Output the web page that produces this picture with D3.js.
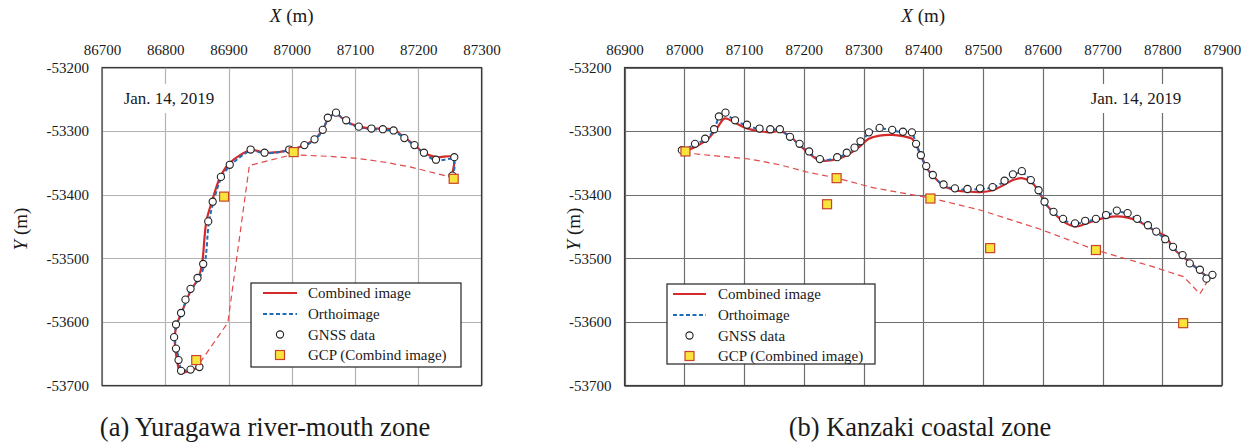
<!DOCTYPE html>
<html>
<head>
<script src="https://cdnjs.cloudflare.com/ajax/libs/d3/7.8.5/d3.min.js"></script>
<style>
body { margin: 0; background: #fff; }
#fig, #fig text { font-family: "Times New Roman", "Liberation Serif", "DejaVu Serif", serif; }
#fig text { fill: #1a1a1a; }
</style>
</head>
<body>
<svg id="fig" width="1252" height="448" font-family="'Liberation Serif', serif"></svg>
<script>
// tick values
var yTicks = [-53200, -53300, -53400, -53500, -53600, -53700];
var xTicksA = [86700, 86800, 86900, 87000, 87100, 87200, 87300];
var xTicksB = [86900, 87000, 87100, 87200, 87300, 87400, 87500, 87600, 87700, 87800, 87900];

// (a) Yuragawa river-mouth zone
var gnssA = [[86854,-53671],[86840,-53675],[86825,-53677],[86821,-53660],[86817,-53642],[86814,-53624],[86817,-53604],[86825,-53586],[86832,-53565],[86840,-53548],[86851,-53531],[86860,-53509],[86868,-53442],[86875,-53411],[86888,-53372],[86902,-53353],[86935,-53329],[86957,-53334],[86996,-53329],[87020,-53322],[87036,-53313],[87049,-53298],[87057,-53279],[87070,-53271],[87086,-53283],[87106,-53293],[87126,-53296],[87144,-53297],[87161,-53299],[87178,-53311],[87194,-53322],[87209,-53334],[87228,-53345],[87257,-53341],[87254,-53370]];
var combinedA = [[86852,-53672],[86838,-53677],[86824,-53680],[86819,-53662],[86816,-53642],[86815,-53622],[86819,-53602],[86826,-53585],[86834,-53565],[86842,-53548],[86852,-53532],[86858,-53510],[86865,-53442],[86874,-53410],[86887,-53372],[86902,-53350],[86936,-53330],[86958,-53334],[86997,-53330],[87020,-53322],[87037,-53312],[87050,-53296],[87058,-53280],[87070,-53273],[87086,-53285],[87106,-53293],[87126,-53296],[87144,-53296],[87161,-53298],[87178,-53310],[87194,-53322],[87209,-53334],[87228,-53341],[87255,-53341],[87254,-53366]];
var orthoA = [[86853,-53670],[86840,-53674],[86826,-53676],[86822,-53660],[86818,-53642],[86815,-53624],[86818,-53604],[86826,-53587],[86833,-53566],[86841,-53549],[86853,-53532],[86862,-53510],[86869,-53444],[86876,-53412],[86889,-53373],[86903,-53354],[86936,-53331],[86957,-53335],[86996,-53330],[87020,-53323],[87036,-53314],[87049,-53299],[87057,-53281],[87070,-53273],[87086,-53285],[87106,-53294],[87126,-53297],[87144,-53298],[87161,-53300],[87178,-53311],[87194,-53323],[87209,-53335],[87228,-53346],[87256,-53345],[87255,-53370]];
var dashA = [[86855,-53664],[86899,-53601],[86933,-53354],[87001,-53337],[87064,-53340],[87105,-53343],[87148,-53349],[87190,-53357],[87254,-53373]];
var gcpA = [[86849,-53660],[86893,-53403],[87003,-53333],[87256,-53375]];

// (b) Kanzaki coastal zone
var gnssB = [[86996,-53330],[87018,-53320],[87035,-53312],[87050,-53297],[87058,-53277],[87069,-53271],[87085,-53283],[87105,-53290],[87126,-53296],[87144,-53297],[87160,-53297],[87177,-53309],[87193,-53320],[87209,-53332],[87227,-53344],[87256,-53341],[87272,-53334],[87285,-53326],[87295,-53316],[87309,-53302],[87327,-53295],[87348,-53298],[87366,-53301],[87381,-53302],[87388,-53320],[87396,-53338],[87405,-53355],[87416,-53369],[87434,-53384],[87453,-53390],[87474,-53391],[87495,-53390],[87516,-53388],[87536,-53378],[87550,-53368],[87565,-53363],[87580,-53377],[87593,-53393],[87603,-53411],[87618,-53427],[87634,-53438],[87654,-53445],[87671,-53441],[87689,-53438],[87706,-53432],[87724,-53425],[87742,-53429],[87758,-53438],[87776,-53448],[87790,-53458],[87805,-53470],[87818,-53482],[87834,-53495],[87846,-53508],[87863,-53518],[87874,-53532],[87884,-53526]];
var combinedB = [[86996,-53333],[87018,-53325],[87040,-53312],[87055,-53295],[87068,-53280],[87085,-53287],[87105,-53296],[87126,-53300],[87144,-53302],[87160,-53300],[87177,-53308],[87193,-53322],[87209,-53335],[87227,-53346],[87256,-53344],[87272,-53338],[87290,-53327],[87309,-53312],[87327,-53307],[87348,-53306],[87366,-53308],[87381,-53312],[87390,-53325],[87398,-53342],[87407,-53360],[87418,-53372],[87434,-53386],[87453,-53393],[87474,-53395],[87495,-53396],[87516,-53393],[87536,-53384],[87550,-53377],[87565,-53374],[87580,-53380],[87593,-53394],[87603,-53412],[87618,-53428],[87634,-53442],[87654,-53450],[87671,-53446],[87689,-53440],[87706,-53436],[87724,-53434],[87742,-53436],[87758,-53441],[87776,-53450],[87790,-53458],[87805,-53465],[87812,-53474],[87820,-53486],[87834,-53497],[87846,-53506],[87863,-53520],[87874,-53528]];
var orthoB = [[86996,-53331],[87018,-53321],[87035,-53313],[87050,-53298],[87058,-53279],[87069,-53273],[87085,-53284],[87105,-53291],[87126,-53297],[87144,-53298],[87160,-53298],[87177,-53310],[87193,-53321],[87209,-53333],[87227,-53345],[87256,-53342],[87272,-53335],[87285,-53327],[87295,-53317],[87309,-53304],[87327,-53296],[87348,-53299],[87366,-53302],[87381,-53304],[87388,-53321],[87396,-53339],[87405,-53356],[87416,-53370],[87434,-53385],[87453,-53391],[87474,-53392],[87495,-53391],[87516,-53389],[87536,-53379],[87550,-53370],[87565,-53365],[87580,-53378],[87593,-53394],[87603,-53412],[87618,-53428],[87634,-53439],[87654,-53446],[87671,-53442],[87689,-53439],[87706,-53433],[87724,-53427],[87742,-53430],[87758,-53439],[87776,-53449],[87790,-53459],[87805,-53470],[87818,-53483],[87834,-53496],[87846,-53508],[87863,-53519],[87874,-53530]];
var dashB = [[87000,-53334],[87053,-53339],[87110,-53344],[87160,-53353],[87204,-53364],[87256,-53374],[87316,-53389],[87411,-53405],[87495,-53424],[87595,-53454],[87689,-53487],[87780,-53512],[87836,-53529],[87863,-53556],[87875,-53537]];
var gcpB = [[87002,-53332],[87239,-53415],[87255,-53374],[87412,-53406],[87512,-53484],[87689,-53487],[87835,-53602]];

var dateLabel = "Jan. 14, 2019";
var legendA = ["Combined image", "Orthoimage", "GNSS data", "GCP (Combind image)"];
var legendB = ["Combined image", "Orthoimage", "GNSS data", "GCP (Combined image)"];

var RED = "#d42a2a", BLUE = "#1f6db5", DASHRED = "#e04a4a";
var GCP_FILL = "#f9e43c", GCP_STROKE = "#c8432a";
var SERIF = "'Liberation Serif', 'Times New Roman', serif";

var svg = d3.select("#fig");

function drawPanel(p) {
    var x = d3.scaleLinear().domain([p.xTicks[0], p.xTicks[p.xTicks.length - 1]]).range([p.x0, p.x1]);
    var y = d3.scaleLinear().domain([-53200, -53700]).range([67.5, 385.5]);
    var g = svg.append("g").attr("font-family", SERIF);

    // grid
    g.selectAll(".vg").data(p.xTicks).enter().append("line")
        .attr("x1", d => Math.round(x(d)) + 0.5).attr("x2", d => Math.round(x(d)) + 0.5)
        .attr("y1", y(-53200)).attr("y2", y(-53700))
        .attr("stroke", p.grid).attr("stroke-width", 1.2);
    g.selectAll(".hg").data(yTicks).enter().append("line")
        .attr("y1", d => Math.round(y(d)) + 0.5).attr("y2", d => Math.round(y(d)) + 0.5)
        .attr("x1", p.x0).attr("x2", p.x1)
        .attr("stroke", p.grid).attr("stroke-width", 1.2);
    g.append("rect").attr("x", p.x0).attr("y", y(-53200)).attr("width", p.x1 - p.x0).attr("height", y(-53700) - y(-53200))
        .attr("fill", "none").attr("stroke", "#3a3a3a").attr("stroke-width", 1.2);

    // axes
    var xa = g.append("g").attr("transform", "translate(0," + y(-53200) + ")")
        .call(d3.axisTop(x).tickValues(p.xTicks).tickSize(0).tickPadding(13).tickFormat(d3.format("d")));
    var ya = g.append("g").attr("transform", "translate(" + p.x0 + ",0)")
        .call(d3.axisLeft(y).tickValues(yTicks).tickSize(0).tickPadding(13).tickFormat(d3.format("d")));
    [xa, ya].forEach(function (a) {
        a.select(".domain").remove();
        a.attr("font-family", SERIF).attr("font-size", 15).attr("color", "#1a1a1a");
        a.selectAll("text").attr("font-family", SERIF);
    });
    ya.selectAll("text").text(d => "-" + Math.abs(d));

    // axis titles
    var xt = g.append("text").attr("x", (p.x0 + p.x1) / 2).attr("y", 22).attr("text-anchor", "middle").attr("font-size", 19);
    xt.append("tspan").attr("font-style", "italic").text("X");
    xt.append("tspan").text(" (m)");
    var yt = g.append("text").attr("transform", "translate(" + p.yTitleX + ",229) rotate(-90)").attr("text-anchor", "middle").attr("font-size", 19);
    yt.append("tspan").attr("font-style", "italic").text("Y");
    yt.append("tspan").text(" (m)");

    // date label
    g.append("rect").attr("x", p.dateX - 54).attr("y", 84).attr("width", 108).attr("height", 29).attr("fill", "#fff");
    g.append("text").attr("x", p.dateX).attr("y", 104).attr("text-anchor", "middle").attr("font-size", 17).text(dateLabel);

    // series
    var lin = d3.line().x(d => x(d[0])).y(d => y(d[1]));
    var smooth = d3.line().x(d => x(d[0])).y(d => y(d[1])).curve(d3.curveCatmullRom.alpha(0.5));
    g.append("path").attr("d", lin(p.dash)).attr("fill", "none").attr("stroke", DASHRED).attr("stroke-width", 1.2).attr("stroke-dasharray", "6,4");
    g.append("path").attr("d", smooth(p.combined)).attr("fill", "none").attr("stroke", RED).attr("stroke-width", 2.2);
    g.append("path").attr("d", smooth(p.ortho)).attr("fill", "none").attr("stroke", BLUE).attr("stroke-width", 2).attr("stroke-dasharray", "4,2.5");
    g.selectAll(".gnss").data(p.gnss).enter().append("circle")
        .attr("cx", d => x(d[0])).attr("cy", d => y(d[1])).attr("r", 3.6)
        .attr("fill", "#fff").attr("stroke", "#222").attr("stroke-width", 1.1);
    g.selectAll(".gcp").data(p.gcp).enter().append("rect")
        .attr("x", d => x(d[0]) - 4.5).attr("y", d => y(d[1]) - 4.5).attr("width", 9).attr("height", 9)
        .attr("fill", GCP_FILL).attr("stroke", GCP_STROKE).attr("stroke-width", 1.2);

    // legend
    var L = p.legend;
    g.append("rect").attr("x", L.x).attr("y", L.y).attr("width", L.w).attr("height", L.h)
        .attr("fill", "#fff").attr("stroke", "#222").attr("stroke-width", 1.2);
    var rows = [10, 31, 51.5, 72];
    var sx0 = L.x + L.s0, sx1 = L.x + L.s1, sc = (sx0 + sx1) / 2;
    g.append("line").attr("x1", sx0).attr("x2", sx1).attr("y1", L.y + rows[0]).attr("y2", L.y + rows[0]).attr("stroke", RED).attr("stroke-width", 2.2);
    g.append("line").attr("x1", sx0).attr("x2", sx1).attr("y1", L.y + rows[1]).attr("y2", L.y + rows[1]).attr("stroke", BLUE).attr("stroke-width", 2).attr("stroke-dasharray", "4,2.5");
    g.append("circle").attr("cx", sc).attr("cy", L.y + rows[2]).attr("r", 3.6).attr("fill", "#fff").attr("stroke", "#222").attr("stroke-width", 1.1);
    g.append("rect").attr("x", sc - 4.5).attr("y", L.y + rows[3] - 4.5).attr("width", 9).attr("height", 9).attr("fill", GCP_FILL).attr("stroke", GCP_STROKE).attr("stroke-width", 1.2);
    g.selectAll(".lt").data(p.legendText).enter().append("text")
        .attr("x", L.x + L.tx).attr("y", (d, i) => L.y + rows[i] + 5).attr("font-size", 15).text(d => d);

    // caption
    g.append("text").attr("x", p.capX).attr("y", 436).attr("text-anchor", "middle").attr("font-size", 26.5).text(p.caption);
}

drawPanel({
    xTicks: xTicksA, x0: 102, x1: 481.5, grid: "#b3b3b3",
    gnss: gnssA, combined: combinedA, ortho: orthoA, dash: dashA, gcp: gcpA,
    yTitleX: 27, dateX: 169,
    legend: { x: 251, y: 283, w: 210, h: 84, s0: 12, s1: 46, tx: 57 },
    legendText: legendA,
    caption: "(a) Yuragawa river-mouth zone", capX: 265
});
drawPanel({
    xTicks: xTicksB, x0: 624.5, x1: 1222, grid: "#6e6e6e",
    gnss: gnssB, combined: combinedB, ortho: orthoB, dash: dashB, gcp: gcpB,
    yTitleX: 580, dateX: 1136,
    legend: { x: 667, y: 284, w: 208, h: 80, s0: 6, s1: 39, tx: 51 },
    legendText: legendB,
    caption: "(b) Kanzaki coastal zone", capX: 920
});
</script>
</body>
</html>
